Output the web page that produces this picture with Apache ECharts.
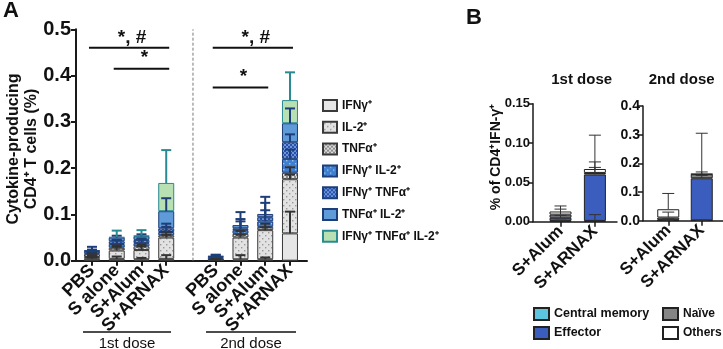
<!DOCTYPE html>
<html><head><meta charset="utf-8">
<script src="https://cdn.jsdelivr.net/npm/echarts@6/dist/echarts.min.js"></script>
<style>html,body{margin:0;padding:0;background:#fff}#c{width:723px;height:349px}</style>
</head><body><div id="c"></div>
<script>
// ---------- Panel A data ----------
const categoriesA = ['PBS','S alone','S+Alum','S+ARNAX','','PBS','S alone','S+Alum','S+ARNAX'];
const namesA = ['IFNγ⁺','IL-2⁺','TNFα⁺','IFNγ⁺ IL-2⁺','IFNγ⁺ TNFα⁺','TNFα⁺ IL-2⁺','IFNγ⁺ TNFα⁺ IL-2⁺'];
const ifng      = [0.004,0.004,0.003,0.004,null,0.001,0.003,0.003,0.059];
const il2       = [0.004,0.018,0.020,0.046,null,0.001,0.047,0.063,0.117];
const tnfa      = [0.006,0.006,0.008,0.005,null,0.001,0.008,0.007,0.014];
const ifngIl2   = [0.002,0.008,0.007,0.007,null,0.003,0.008,0.012,0.030];
const ifngTnfa  = [0.005,0.006,0.007,0.008,null,0.003,0.004,0.009,0.036];
const tnfaIl2   = [0.001,0.008,0.008,0.037,null,0.001,0.007,0.007,0.041];
const triple    = [null ,0.001,0.001,0.061,null,null ,null ,null ,0.050];
const sdIfng     = [0.003,0.005,0.003,0.008,null,0.001,0.009,0.004,0.047];
const sdIl2      = [0.004,0.008,0.008,0.006,null,0.001,0.006,0.006,0.010];
const sdTnfa     = [0.003,0.005,0.004,0.008,null,0.001,0.006,0.007,0.012];
const sdIfngIl2  = [0.004,0.008,0.008,0.011,null,0.002,0.019,0.024,0.020];
const sdIfngTnfa = [0.009,0.003,0.003,0.010,null,0.004,0.020,0.031,0.017];
const sdTnfaIl2  = [0.002,0.004,0.004,0.028,null,0.002,0.028,0.037,0.032];
const sdTriple   = [null ,0.014,0.012,0.071,null,null ,null ,null ,0.060];
// significance: [startIndex, endIndex, level]
const sigA = [[0,3,0.46],[1,3,0.415],[5,8,0.46],[5,7,0.374]];
const sigText = ['*, #','*','*, #','*'];

// ---------- Panel B data ----------
const categoriesB = ['S+Alum','S+ARNAX'];
const namesB = ['Central memory','Effector','Naïve','Others'];
const b1CM = [0.001,0.001], b1Eff = [0.004,0.059], b1Naive = [0.004,0.002], b1Others = [0.004,0.005];
const b1sdCM = [0.001,0.008], b1sdEff = [0.003,0.009], b1sdNaive = [0.007,0.014], b1sdOthers = [0.007,0.043];
const b2CM = [0.001,0.001], b2Eff = [0.002,0.147], b2Naive = [0.008,0.014], b2Others = [0.029,0.001];
const b2sdCM = [0.001,0.001], b2sdEff = [0.004,0.010], b2sdNaive = [0.019,0.008], b2sdOthers = [0.055,0.142];

// ---------- styles ----------
const FONT = '"Liberation Sans", Arial, Helvetica, sans-serif';
function pattern(bg, fg, kind){
  const c = document.createElement('canvas');
  const s = kind === 'check' ? 4 : 6;
  c.width = s; c.height = s;
  const g = c.getContext('2d');
  g.fillStyle = bg; g.fillRect(0,0,s,s);
  if (kind) {
    g.fillStyle = fg;
    if (kind === 'check') { g.fillRect(0,0,2,2); g.fillRect(2,2,2,2); }
    else { g.fillRect(1,1,1.4,1.4); g.fillRect(4,4,1.4,1.4); }
  }
  return {image: c, repeat: 'repeat'};
}
const fillsA = [
  '#e6e6e6',
  pattern('#e2e2e2','#9a9a9a','dots'),
  pattern('#8c8c8c','#dcdcdc','check'),
  pattern('#3f7fd0','#9cc0ee','dots'),
  pattern('#2552ad','#6f94d8','check'),
  '#5f9bd8',
  '#b9e0b2'
];
const bordersA = ['#3a3a3a','#3a3a3a','#3a3a3a','#1d3e78','#1d3e78','#1d3e78','#2a8a92'];
const whiskA = ['#333','#333','#333','#1d3e78','#1d3e78','#1d3e78','#2a8a92'];
const colorsB = ['#5cc6e0','#3b5dbd','#858585','#ffffff'];

const valsA = [ifng, il2, tnfa, ifngIl2, ifngTnfa, tnfaIl2, triple];
const sdsA = [sdIfng, sdIl2, sdTnfa, sdIfngIl2, sdIfngTnfa, sdTnfaIl2, sdTriple];
const valsB1 = [b1CM,b1Eff,b1Naive,b1Others], sdsB1 = [b1sdCM,b1sdEff,b1sdNaive,b1sdOthers];
const valsB2 = [b2CM,b2Eff,b2Naive,b2Others], sdsB2 = [b2sdCM,b2sdEff,b2sdNaive,b2sdOthers];

function whiskerData(vals, sds){
  const out = [];
  const n = vals[0].length;
  for (let i = 0; i < n; i++) {
    let cum = 0;
    vals.forEach((arr, k) => {
      if (arr[i] == null) return;
      cum += arr[i];
      if (sds[k][i]) out.push([i, cum, cum + sds[k][i], k]);
    });
  }
  return out;
}
function whiskerSeries(data, xi, colors, lw, cap){
  return {
    type:'custom', xAxisIndex:xi, yAxisIndex:xi, z:10, silent:true,
    encode:{x:0, y:[1,2]}, data,
    renderItem(params, api){
      const x = api.value(0), lo = api.value(1), hi = api.value(2), k = api.value(3);
      const p0 = api.coord([x, lo]), p1 = api.coord([x, hi]);
      const st = {stroke: colors[k], lineWidth: lw};
      return {type:'group', children:[
        {type:'line', shape:{x1:p0[0],y1:p0[1],x2:p1[0],y2:p1[1]}, style:st},
        {type:'line', shape:{x1:p1[0]-cap/2,y1:p1[1],x2:p1[0]+cap/2,y2:p1[1]}, style:st}
      ]};
    }
  };
}

const axisLbl = {fontFamily:FONT, fontWeight:'bold', color:'#111'};
function axisGrid(xi){ // x axis carrying only the line
  return {type:'category', gridIndex:xi, data:[''], axisLine:{show:true, lineStyle:{color:'#1a1a1a', width:xi===0?2:1.5}},
    axisTick:{show:false}, axisLabel:{show:false}};
}
function barsX(xi, cats, fs){
  return {type:'category', gridIndex:xi, data:cats, axisLine:{show:false},
    axisTick:{show:true, alignWithLabel:true, length:5, interval:(i,v)=>v!=='', lineStyle:{color:'#1a1a1a', width:xi===1?2:1.5}},
    axisLabel:Object.assign({rotate:45, fontSize:fs, margin:7, interval:0}, axisLbl)};
}
function yShown(gi, max, interval, fs, dec, margin){
  return {type:'value', gridIndex:gi, min:0, max, interval, splitLine:{show:false},
    axisLine:{show:true, lineStyle:{color:'#1a1a1a', width:gi===0?2:1.5}},
    axisTick:{show:true, length:5, lineStyle:{color:'#1a1a1a', width:gi===0?2:1.5}},
    axisLabel:Object.assign({fontSize:fs, margin, formatter:v=>v.toFixed(dec)}, axisLbl)};
}
function yHidden(gi, max){ return {type:'value', gridIndex:gi, min:0, max, show:false}; }

const series = [];
namesA.forEach((nm, k) => series.push({
  name:nm, type:'bar', stack:'A', xAxisIndex:1, yAxisIndex:1, barWidth:16,
  itemStyle:{color:fillsA[k], borderColor:bordersA[k], borderWidth:1}, data:valsA[k]
}));
series.push(whiskerSeries(whiskerData(valsA, sdsA), 1, whiskA, 2, 10));
[[valsB1,3,'B1'],[valsB2,5,'B2']].forEach(([vals, xi, st]) => {
  namesB.forEach((nm, k) => series.push({
    name:nm, type:'bar', stack:st, xAxisIndex:xi, yAxisIndex:xi, barWidth:22,
    itemStyle:{color:colorsB[k], borderColor:'#222', borderWidth:1}, data:vals[k]
  }));
});
series.push(whiskerSeries(whiskerData(valsB1, sdsB1), 3, ['#333','#333','#333','#333'], 1, 12));
series.push(whiskerSeries(whiskerData(valsB2, sdsB2), 5, ['#333','#333','#333','#333'], 1, 12));
// significance bars
series.push({
  type:'custom', xAxisIndex:1, yAxisIndex:1, z:12, silent:true, encode:{x:[0,1], y:2}, data:sigA,
  renderItem(params, api){
    const a = api.coord([api.value(0), api.value(2)]), b = api.coord([api.value(1), api.value(2)]);
    const x1 = a[0]-3, x2 = b[0]+3;
    return {type:'group', children:[
      {type:'line', shape:{x1, y1:a[1], x2, y2:a[1]}, style:{stroke:'#111', lineWidth:2}},
      {type:'text', style:{text:sigText[params.dataIndex], x:(x1+x2)/2+3, y:a[1]-1, textAlign:'center', textVerticalAlign:'bottom',
        font:'bold 19px '+FONT, fill:'#111'}}
    ]};
  }
});
// dose separator (empty category)
series.push({
  type:'custom', xAxisIndex:1, yAxisIndex:1, z:1, silent:true, encode:{x:0, y:[1,2]}, data:[[4,0,0.5]],
  renderItem(params, api){
    const a = api.coord([api.value(0), api.value(1)]), b = api.coord([api.value(0), api.value(2)]);
    return {type:'line', shape:{x1:a[0]+2,y1:a[1],x2:b[0]+2,y2:b[1]}, style:{stroke:'#777', lineWidth:1, lineDash:[3,2]}};
  }
});

const gA = {top:29.3, height:231.4}, gB1 = {top:103.7, height:118}, gB2 = {top:106, height:114.7};
const legText = (fs) => ({fontSize:fs, fontWeight:'bold', color:'#111', fontFamily:FONT});
const option = {
  animation:false,
  textStyle:{fontFamily:FONT},
  grid:[
    Object.assign({left:76, width:231}, gA),
    Object.assign({left:79.6, width:222.75}, gA),
    Object.assign({left:533, width:84}, gB1),
    Object.assign({left:543.3, width:68.8}, gB1),
    Object.assign({left:643, width:80}, gB2),
    Object.assign({left:651.5, width:67}, gB2)
  ],
  xAxis:[axisGrid(0), barsX(1, categoriesA, 18), axisGrid(2), barsX(3, categoriesB, 17), axisGrid(4), barsX(5, categoriesB, 17)],
  yAxis:[yShown(0, 0.5, 0.1, 20, 1, 5), yHidden(1, 0.5), yShown(2, 0.15, 0.05, 13, 2, 3), yHidden(3, 0.15), yShown(4, 0.4, 0.1, 14, 1, 3), yHidden(5, 0.4)],
  legend:[
    {data:namesA, orient:'vertical', left:322, top:99, padding:0, icon:'rect', itemWidth:14, itemHeight:11, itemGap:8.8,
      textStyle:legText(12)},
    {data:['Central memory','Effector'], orient:'vertical', left:533, top:307, padding:0, icon:'rect', itemWidth:15, itemHeight:12, itemGap:5,
      textStyle:legText(12.5)},
    {data:['Naïve','Others'], orient:'vertical', left:662, top:307, padding:0, icon:'rect', itemWidth:15, itemHeight:12, itemGap:5,
      textStyle:legText(12)}
  ],
  graphic:[
    {type:'text', x:11, y:11, style:{text:'A', font:'bold 22px '+FONT, textAlign:'center', textVerticalAlign:'middle', fill:'#111'}},
    {type:'text', x:474, y:18, style:{text:'B', font:'bold 22px '+FONT, textAlign:'center', textVerticalAlign:'middle', fill:'#111'}},
    {type:'text', x:13.5, y:149, rotation:Math.PI/2, style:{text:'Cytokine-producing', font:'bold 16px '+FONT, textAlign:'center', textVerticalAlign:'middle', fill:'#111'}},
    {type:'text', x:31.5, y:149, rotation:Math.PI/2, style:{text:'CD4⁺ T cells (%)', font:'bold 16px '+FONT, textAlign:'center', textVerticalAlign:'middle', fill:'#111'}},
    {type:'text', x:496, y:157, rotation:Math.PI/2, style:{text:'% of CD4⁺IFN-γ⁺', font:'bold 14px '+FONT, textAlign:'center', textVerticalAlign:'middle', fill:'#111'}},
    {type:'text', x:581.7, y:79.5, style:{text:'1st dose', font:'bold 15px '+FONT, textAlign:'center', textVerticalAlign:'middle', fill:'#111'}},
    {type:'text', x:681.7, y:79.5, style:{text:'2nd dose', font:'bold 15px '+FONT, textAlign:'center', textVerticalAlign:'middle', fill:'#111'}},
    {type:'line', shape:{x1:83, y1:332, x2:171, y2:332}, style:{stroke:'#111', lineWidth:1.5}},
    {type:'line', shape:{x1:206, y1:332, x2:296, y2:332}, style:{stroke:'#111', lineWidth:1.5}},
    {type:'text', x:127, y:344, style:{text:'1st dose', font:'15px '+FONT, textAlign:'center', textVerticalAlign:'middle', fill:'#111'}},
    {type:'text', x:251, y:344, style:{text:'2nd dose', font:'15px '+FONT, textAlign:'center', textVerticalAlign:'middle', fill:'#111'}}
  ],
  series
};
const chart = echarts.init(document.getElementById('c'), null, {renderer:'canvas'});
chart.setOption(option);
</script>
</body></html>
